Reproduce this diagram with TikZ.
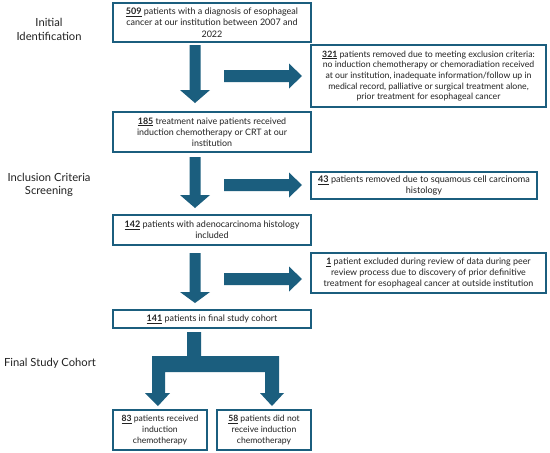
\documentclass[tikz,border=0pt]{standalone}
\usepackage{fontspec}
\setmainfont{Lato}
\definecolor{arr}{HTML}{1B5E7E}
\definecolor{txt}{HTML}{222222}
\newcommand{\num}[1]{\underline{\textbf{#1}}}
\begin{document}
\begin{tikzpicture}[x=1pt,y=-1pt,
  box/.style={draw=arr, line width=1.1pt, fill=white, inner sep=0pt, align=center,
    text=txt, font=\fontsize{9}{11.3}\selectfont},
  stage/.style={align=center, text=txt, font=\fontsize{11.2}{13.5}\selectfont},
  blockarrow/.style={fill=arr, draw=none}]
\useasboundingbox (0,0) rectangle (550,453);
\fill[white] (0,0) rectangle (550,453);

% stage labels
\node[stage] (s1) at (49,29.5) {Initial\\Identification};
\node[stage] (s2) at (49,185) {Inclusion Criteria\\Screening};
\node[stage] (s3) at (50,363) {Final Study Cohort};

% boxes
\node[box, minimum width=198pt, minimum height=39pt] (b1) at (212,22.5)
  {\num{509} patients with a diagnosis of esophageal\\cancer at our institution between 2007 and\\2022};
\node[box, minimum width=235pt, minimum height=62pt, font=\fontsize{8.7}{10.7}\selectfont] (b2) at (428.5,76)
  {\num{321} patients removed due to meeting exclusion criteria:\\no induction chemotherapy or chemoradiation received\\at our institution, inadequate information/follow up in\\medical record, palliative or surgical treatment alone,\\prior treatment for esophageal cancer};
\node[box, minimum width=198pt, minimum height=40pt, font=\fontsize{8.9}{11.2}\selectfont] (b3) at (212,132)
  {\num{185} treatment naive patients received\\induction chemotherapy or CRT at our\\institution};
\node[box, minimum width=226pt, minimum height=27pt, font=\fontsize{9.1}{11.2}\selectfont] (b4) at (424,185.5)
  {\num{43} patients removed due to squamous cell carcinoma\\histology};
\node[box, minimum width=198pt, minimum height=30pt] (b5) at (212,230)
  {\num{142} patients with adenocarcinoma histology\\included};
\node[box, minimum width=235pt, minimum height=40pt, font=\fontsize{8.9}{11}\selectfont] (b6) at (428.5,273)
  {\num{1} patient excluded during review of data during peer\\review process due to discovery of prior definitive\\treatment for esophageal cancer at outside institution};
\node[box, minimum width=198pt, minimum height=18pt] (b7) at (212,319)
  {\num{141} patients in final study cohort};
\node[box, minimum width=94pt, minimum height=40pt, font=\fontsize{8.6}{11.2}\selectfont] (b8) at (160,430)
  {\num{83} patients received\\induction\\chemotherapy};
\node[box, minimum width=94pt, minimum height=40pt, font=\fontsize{8.6}{11.2}\selectfont] (b9) at (264,430)
  {\num{58} patients did not\\receive induction\\chemotherapy};

% down arrows
\foreach \t/\h/\p in {45/90/103, 157/195/208, 253/292/303}{
  \fill[blockarrow] (189.5,\t) -- (200.5,\t) -- (200.5,\h) -- (210,\h) -- (195,\p)
    -- (180,\h) -- (189.5,\h) -- cycle;
}
% right arrows
\foreach \c in {76, 185, 279}{
  \fill[blockarrow] (224,\c-6) -- (289,\c-6) -- (289,\c-12.5) -- (302,\c) -- (289,\c+12.5)
    -- (289,\c+6) -- (224,\c+6) -- cycle;
}
% split arrow
\fill[blockarrow] (187,332) -- (201,332) -- (201,356) -- (279,356) -- (279,393)
  -- (284,393) -- (272,406) -- (260,393) -- (265,393) -- (265,372) -- (165,372)
  -- (165,393) -- (170,393) -- (158,406) -- (145,393) -- (152,393) -- (152,356)
  -- (187,356) -- cycle;
\end{tikzpicture}
\end{document}
